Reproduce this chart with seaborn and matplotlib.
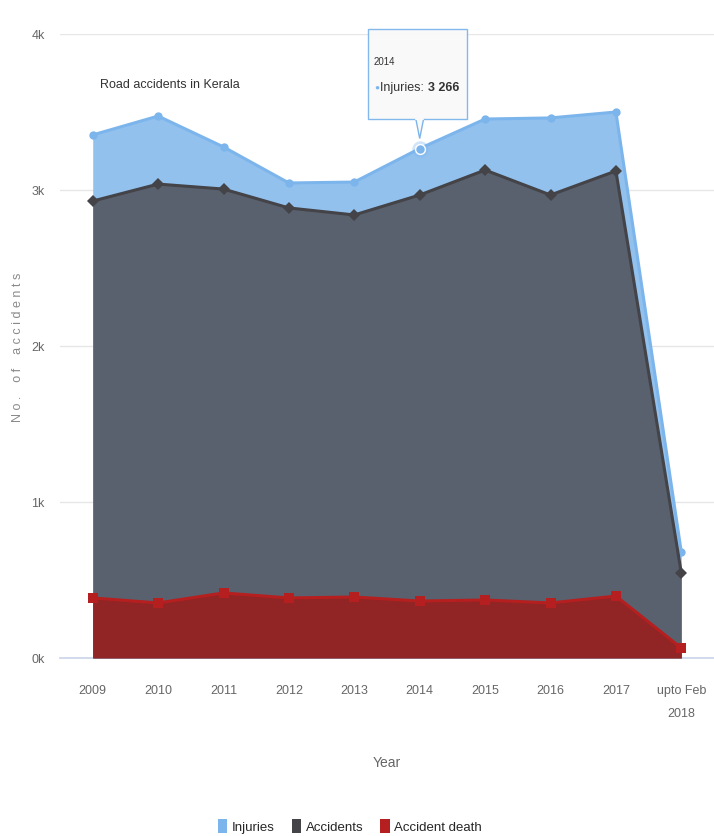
import matplotlib
matplotlib.use("Agg")
import matplotlib.pyplot as plt
import seaborn as sns
import pandas as pd
import numpy as np
from matplotlib.patches import Patch, Polygon

categories = ["2009", "2010", "2011", "2012", "2013", "2014", "2015", "2016", "2017", "upto Feb\n2018"]
injuries = [3353, 3474, 3276, 3045, 3051, 3266, 3455, 3462, 3500, 679]
accidents = [2929, 3038, 3006, 2885, 2840, 2968, 3128, 2968, 3122, 545]
deaths = [385, 353, 417, 385, 391, 365, 372, 353, 397, 64]
yticks = [0, 1000, 2000, 3000, 4000]
ytick_labels = ["0k", "1k", "2k", "3k", "4k"]

sns.set_theme(style="white")
FONT = ["Liberation Sans", "DejaVu Sans"]
plt.rcParams["font.family"] = FONT

df = pd.DataFrame({"x": np.arange(len(categories)), "Injuries": injuries,
                   "Accidents": accidents, "Accident death": deaths})

fig = plt.figure(figsize=(7.14, 8.37), dpi=100)
ax = fig.add_axes([60 / 714, 1 - 659 / 837, 1 - 60 / 714, (659 - 35) / 837])

series = [
    ("Injuries", "#92c1ee", "#7cb5ec", "o"),
    ("Accidents", "#59616e", "#434348", "D"),
    ("Accident death", "#912424", "#b51f1f", "s"),
]
for i, (name, fill, line, mk) in enumerate(series):
    ax.fill_between(df["x"], df[name], 0, color=fill, alpha=1, zorder=2 + i, linewidth=0)
    sns.lineplot(data=df, x="x", y=name, ax=ax, color=line, linewidth=2.2,
                 marker=mk, markersize=6 if mk != "s" else 7.5, markeredgewidth=0,
                 zorder=2.5 + i, legend=False)

# hovered point
ax.scatter([5], [injuries[5]], s=140, color="#7cb5ec", alpha=0.35, zorder=10, linewidth=0)
ax.scatter([5], [injuries[5]], s=50, color="#7cb5ec", edgecolor="white", linewidth=1, zorder=11)

ax.set_xlim(-0.5, len(categories) - 0.5)
ax.set_ylim(0, 4000)
ax.set_yticks(yticks)
ax.set_yticklabels(ytick_labels, color="#666666", fontsize=9)
ax.set_xticks(np.arange(len(categories)))
ax.set_xticklabels(categories, color="#666666", fontsize=9, linespacing=2.2)
ax.set_xticks(np.arange(len(categories) + 1) - 0.5, minor=True)
ax.tick_params(axis="x", which="minor", length=10, color="#ccd6eb", width=1)
ax.tick_params(axis="x", which="major", length=0, pad=19)
ax.tick_params(axis="y", length=0, pad=11)
ax.grid(axis="y", color="#e6e6e6", linewidth=1, zorder=0)
for s in ["top", "right", "left"]:
    ax.spines[s].set_visible(False)
ax.spines["bottom"].set_color("#ccd6eb")
ax.set_xlabel("Year", color="#666666", fontsize=10, labelpad=26)
ax.set_ylabel("N o .    o f    a c c i d e n t s", color="#8a8a8a", fontsize=9, labelpad=5)

ax.text(0.11, 3680, "Road accidents in Kerala", fontsize=9, color="#333333",
        va="center", zorder=20)

# tooltip
ax.add_patch(plt.Rectangle((4.21, 3455), 1.51, 580, fc="#f9f9f9", ec="#7cb5ec", lw=1,
                           zorder=20, alpha=0.95, clip_on=False))
ax.add_patch(Polygon([(4.94, 3457), (5.0, 3330), (5.06, 3457)], closed=False,
                     fc="#f9f9f9", ec="#7cb5ec", lw=1, zorder=20))
ax.plot([4.945, 5.055], [3455, 3455], color="#f9f9f9", lw=1.5, zorder=20.5)
ax.text(4.30, 3830, "2014", fontsize=7, color="#333333", va="center", zorder=21)
ax.text(4.30, 3660, "\u25cf", fontsize=6, color="#7cb5ec", va="center", zorder=21)
t = ax.text(4.40, 3660, "Injuries: ", fontsize=9, color="#333333", va="center", zorder=21)
ax.annotate("3 266", xy=(1, 0.5), xycoords=t, va="center", ha="left", fontsize=9,
            color="#333333", fontweight="bold", zorder=21)

handles = [Patch(facecolor=c, edgecolor="none") for c in ["#7cb5ec", "#434348", "#b51f1f"]]
fig.legend(handles, ["Injuries", "Accidents", "Accident death"], loc="center",
           bbox_to_anchor=(0.49, 1 - 827 / 837), ncol=3, frameon=False, fontsize=9.5,
           handlelength=0.7, handleheight=1.3, columnspacing=1.3, handletextpad=0.35)

fig.savefig("out.png", dpi=100)
